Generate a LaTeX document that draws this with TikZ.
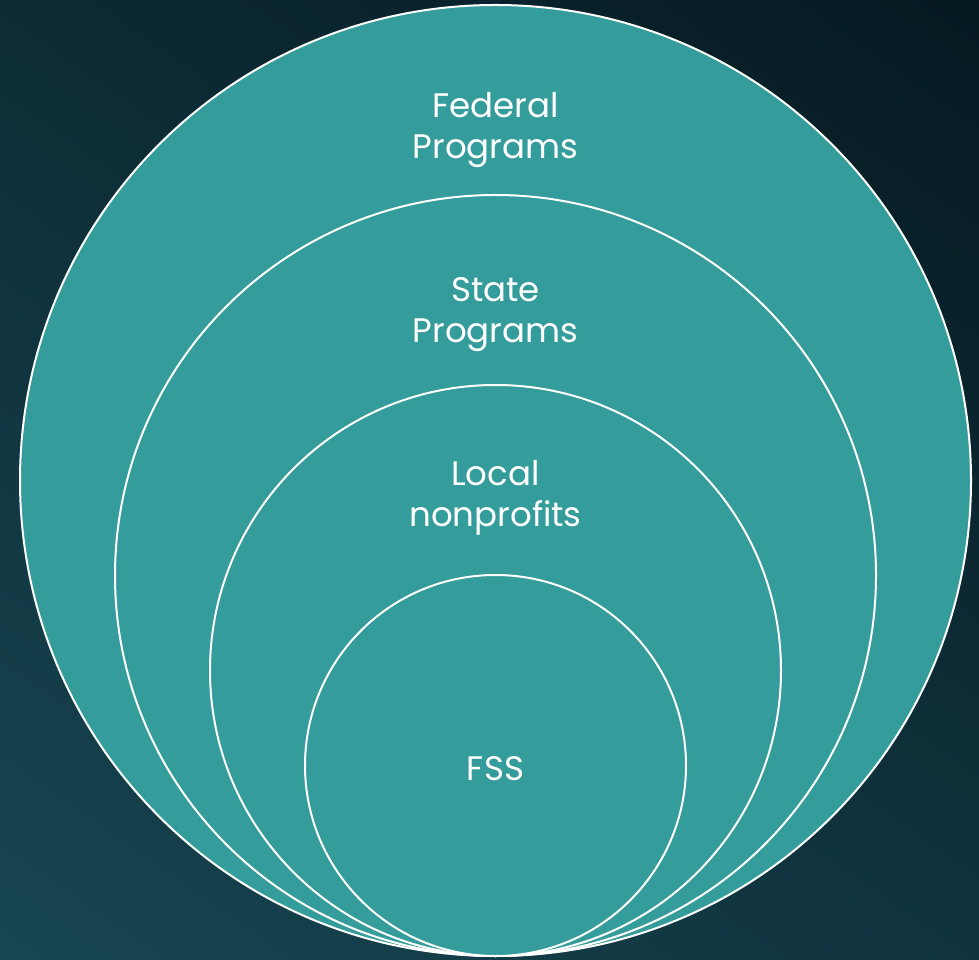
\documentclass[tikz,border=0pt]{standalone}
\usepackage{fontspec}
\setmainfont{Poppins}
\definecolor{circfill}{HTML}{359C9C}
\definecolor{bgdark}{HTML}{051820}
\definecolor{bglight}{HTML}{174652}
\begin{document}
\begin{tikzpicture}[x=1pt,y=1pt,
  ring/.style={draw=white, line width=2pt, fill=circfill},
  lbl/.style={text=white, font=\fontsize{34}{41}\selectfont, align=center, inner sep=0pt}]
\useasboundingbox (0,0) rectangle (979,959);
\shade[top color=bgdark, bottom color=bglight, shading angle=-35] (-200,-200) rectangle (1179,1159);
\draw[ring] (495.5,478.5) circle (475.5);
\draw[ring] (495.5,383.5) circle (380.5);
\draw[ring] (495.5,288.5) circle (285.5);
\draw[ring] (495.5,193.5) circle (190.5);
\node[lbl] (fed) at (495.5,829) {Federal\\Programs};
\node[lbl] (state) at (495.5,644) {State\\Programs};
\node[lbl] (local) at (495.5,461) {Local\\nonprofits};
\node[lbl] (fss) at (495.5,190) {FSS};
\end{tikzpicture}
\end{document}
